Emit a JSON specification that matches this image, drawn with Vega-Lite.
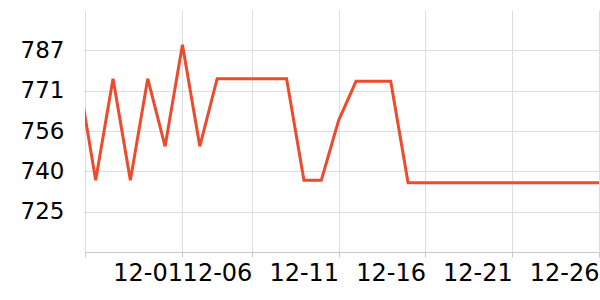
{
  "$schema": "https://vega.github.io/schema/vega-lite/v6.json",
  "width": 514,
  "height": 242,
  "autosize": "none",
  "padding": {"left": 85, "top": 10, "right": 1, "bottom": 48},
  "background": "white",
  "config": {
    "view": {"stroke": null},
    "font": "DejaVu Sans"
  },
  "data": {
    "values": [
      {"date": "2023-11-26T00:00:00Z", "value": 777},
      {"date": "2023-11-27T00:00:00Z", "value": 737},
      {"date": "2023-11-28T00:00:00Z", "value": 776},
      {"date": "2023-11-29T00:00:00Z", "value": 737},
      {"date": "2023-11-30T00:00:00Z", "value": 776},
      {"date": "2023-12-01T00:00:00Z", "value": 750},
      {"date": "2023-12-02T00:00:00Z", "value": 789},
      {"date": "2023-12-03T00:00:00Z", "value": 750},
      {"date": "2023-12-04T00:00:00Z", "value": 776},
      {"date": "2023-12-05T00:00:00Z", "value": 776},
      {"date": "2023-12-06T00:00:00Z", "value": 776},
      {"date": "2023-12-07T00:00:00Z", "value": 776},
      {"date": "2023-12-08T00:00:00Z", "value": 776},
      {"date": "2023-12-09T00:00:00Z", "value": 737},
      {"date": "2023-12-10T00:00:00Z", "value": 737},
      {"date": "2023-12-11T00:00:00Z", "value": 760},
      {"date": "2023-12-12T00:00:00Z", "value": 775},
      {"date": "2023-12-13T00:00:00Z", "value": 775},
      {"date": "2023-12-14T00:00:00Z", "value": 775},
      {"date": "2023-12-15T00:00:00Z", "value": 736},
      {"date": "2023-12-16T00:00:00Z", "value": 736},
      {"date": "2023-12-17T00:00:00Z", "value": 736},
      {"date": "2023-12-18T00:00:00Z", "value": 736},
      {"date": "2023-12-19T00:00:00Z", "value": 736},
      {"date": "2023-12-20T00:00:00Z", "value": 736},
      {"date": "2023-12-21T00:00:00Z", "value": 736},
      {"date": "2023-12-22T00:00:00Z", "value": 736},
      {"date": "2023-12-23T00:00:00Z", "value": 736},
      {"date": "2023-12-24T00:00:00Z", "value": 736},
      {"date": "2023-12-25T00:00:00Z", "value": 736},
      {"date": "2023-12-26T00:00:00Z", "value": 736}
    ]
  },
  "mark": {"type": "line", "color": "#ee4a2c", "strokeWidth": 3, "clip": true, "strokeJoin": "miter"},
  "encoding": {
    "x": {
      "field": "date",
      "type": "temporal",
      "scale": {
        "type": "utc",
        "domain": [
          {"year": 2023, "month": 11, "date": 26, "hours": 9, "minutes": 15, "utc": true},
          {"year": 2023, "month": 12, "date": 26, "utc": true}
        ]
      },
      "axis": {
        "title": null,
        "values": [
          {"year": 2023, "month": 11, "date": 26, "hours": 9, "minutes": 15, "utc": true},
          {"year": 2023, "month": 12, "date": 2, "utc": true},
          {"year": 2023, "month": 12, "date": 6, "utc": true},
          {"year": 2023, "month": 12, "date": 11, "utc": true},
          {"year": 2023, "month": 12, "date": 16, "utc": true},
          {"year": 2023, "month": 12, "date": 21, "utc": true},
          {"year": 2023, "month": 12, "date": 26, "utc": true}
        ],
        "labelExpr": "utcFormat(datum.value, '%m-%d') == '11-26' ? '' : (utcFormat(datum.value, '%m-%d') == '12-02' ? '12-01' : utcFormat(datum.value, '%m-%d'))",
        "labelAlign": "right",
        "labelFontSize": 24,
        "labelColor": "#000000",
        "labelPadding": 4,
        "labelBound": false,
        "labelOverlap": false,
        "labelFlush": false,
        "tickSize": 5,
        "tickColor": "#c8c8c8",
        "domainColor": "#c8c8c8",
        "grid": true,
        "gridColor": "#dddddd",
        "gridWidth": 1
      }
    },
    "y": {
      "field": "value",
      "type": "quantitative",
      "scale": {"domain": [709.4, 802.4], "nice": false, "zero": false},
      "axis": {
        "title": null,
        "values": [724.9, 740.4, 755.9, 771.4, 786.9],
        "format": ".0f",
        "labelFontSize": 23,
        "labelColor": "#000000",
        "labelPadding": 19,
        "tickSize": 2,
        "tickColor": "#dddddd",
        "domain": false,
        "grid": true,
        "gridColor": "#dddddd",
        "gridWidth": 1
      }
    }
  }
}
